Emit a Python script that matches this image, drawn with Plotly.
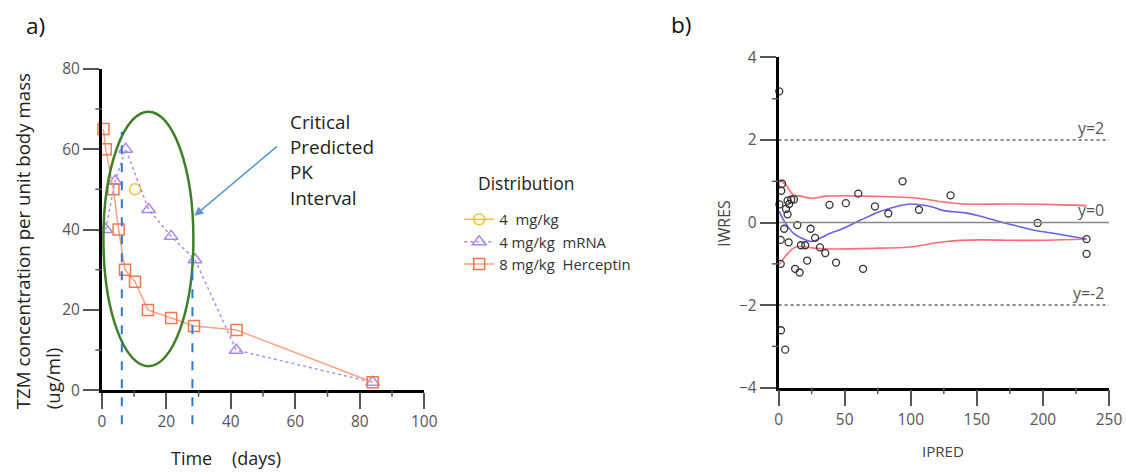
import plotly.graph_objects as go

W, H = 1126, 474

# ---------------- Panel a data ----------------
her_x = [0.5, 1.2, 3.6, 5.2, 7.2, 10.3, 14.3, 21.5, 28.6, 41.8, 84]
her_y = [65, 60, 50, 40, 30, 27, 20, 18, 16, 15, 2]
mrna_x = [1.2, 4.1, 7.4, 14.5, 21.5, 28.9, 41.7, 84]
mrna_y = [40, 52, 60, 45, 38.3, 32.5, 10, 2]
d4_x = [10.3]
d4_y = [50]
legend_names = ["4\u00a0 mg/kg", "4 mg/kg\u00a0 mRNA", "8 mg/kg\u00a0 Herceptin"]
interval_x = [6.2, 28.1]
interval_top = [64.3, 32.5]
ellipse_x = [0.5, 28.4]
ellipse_y = [6, 69.3]
arrow_from = (54.8, 61)
arrow_to = (28.7, 43.4)
callout_lines = ["Critical", "Predicted", "PK", "Interval"]

# ---------------- Panel b data ----------------
ipred = [0.5, 2.6, 2.0, 0.6, 1.6, 1.6, 1.8, 5.0, 4.2, 5.6, 6.8, 8.0, 6.8, 9.6, 11.6, 7.6,
         14.2, 12.5, 15.9, 16.9, 20.1, 21.6, 24.2, 27.6, 31.3, 35.3, 38.5, 43.5, 50.9,
         60.3, 63.9, 72.9, 83.0, 93.8, 106.2, 130.1, 196, 233, 233]
iwres = [3.18, 0.94, 0.77, 0.44, -0.42, -1.0, -2.61, -3.08, -0.15, 0.33, 0.53, 0.45, 0.20,
         0.56, 0.56, -0.48, -0.06, -1.12, -1.21, -0.55, -0.55, -0.92, -0.15, -0.37, -0.60,
         -0.74, 0.43, -0.97, 0.47, 0.70, -1.12, 0.39, 0.22, 1.0, 0.31, 0.66, -0.01, -0.40, -0.76]
upper_x = [0.5, 5, 11.3, 16.4, 25.2, 36.5, 51.6, 76.8, 102, 127, 140, 177.6, 202.8, 233]
upper_y = [1.03, 0.93, 0.67, 0.64, 0.59, 0.64, 0.65, 0.63, 0.60, 0.49, 0.45, 0.45, 0.44, 0.41]
lower_x = [0.5, 5, 11.3, 16.4, 26.4, 39, 76.8, 97, 127, 152, 177.6, 203, 233]
lower_y = [-1.02, -0.82, -0.62, -0.58, -0.62, -0.64, -0.62, -0.60, -0.46, -0.42, -0.43, -0.43, -0.40]
smooth_x = [0.5, 3.8, 11.3, 17.6, 25.2, 31.5, 39, 49, 62, 76.8, 89.4, 99.5, 107, 117, 124.7,
            140, 152, 167.5, 177.6, 192.7, 207.8, 233]
smooth_y = [0.27, 0.06, -0.26, -0.38, -0.46, -0.38, -0.26, -0.14, 0.06, 0.27, 0.39, 0.45, 0.43,
            0.37, 0.29, 0.24, 0.16, 0.02, -0.06, -0.18, -0.26, -0.40]
ref_levels = [2, 0, -2]
ref_labels = ["y=2", "y=0", "y=-2"]
a_minor_x = [10, 30, 50, 70, 90]
a_minor_y = [10, 30, 50, 70]
b_minor_x = [25, 75, 125, 175, 225]
b_minor_y = [-3, -1, 1, 3]

# ---------------- geometry ----------------
# target positions (q, picture pixels) -> page, compensating for how the
# capture places the page (small offset and scale)
SX, OX = 1111 / 1126, 2.0
SY, OY = 455 / 474, 10.0

def px(q):
    return ((q - OX) / SX) / W

def py(q):
    return 1 - ((q - OY) / SY) / H

def fs(size):
    return size / ((SX + SY) / 2)

A_L, A_R, A_T, A_B = 100, 423, 68, 391
B_L, B_R, B_T, B_B = 778, 1109, 56.7, 388.3
A_XR, A_YR = [0, 100], [0, 80]
B_XR, B_YR = [0, 250], [-4, 4]

def map_x(v, L, R, rng):
    return L + (v - rng[0]) / (rng[1] - rng[0]) * (R - L)

def map_y(v, T, B, rng):
    return B - (v - rng[0]) / (rng[1] - rng[0]) * (B - T)

def a_x(v):
    return px(map_x(v, A_L, A_R, A_XR))

def a_y(v):
    return py(map_y(v, A_T, A_B, A_YR))

FONT = "Open Sans"
TICKC = "#555"

fig = go.Figure()

fig.add_trace(go.Scatter(x=d4_x, y=d4_y, mode="lines+markers", name=legend_names[0],
                         line=dict(color="#f2c43c", width=1.5),
                         marker=dict(symbol="circle-open", size=11, color="#f2c43c", line=dict(width=1.5)),
                         cliponaxis=False, xaxis="x", yaxis="y"))
fig.add_trace(go.Scatter(x=mrna_x, y=mrna_y, mode="lines+markers", name=legend_names[1],
                         line=dict(color="#b08ef0", width=1.5, dash="dot"),
                         marker=dict(symbol="triangle-up-open", size=12, color="#a987ee", line=dict(width=1.5)),
                         cliponaxis=False, xaxis="x", yaxis="y"))
fig.add_trace(go.Scatter(x=her_x, y=her_y, mode="lines+markers", name=legend_names[2],
                         line=dict(color="#f6a283", width=1.5),
                         marker=dict(symbol="square-open", size=11, color="#f3784e", line=dict(width=1.5)),
                         cliponaxis=False, xaxis="x", yaxis="y"))

fig.add_trace(go.Scatter(x=upper_x, y=upper_y, mode="lines", line=dict(color="#ff6b78", width=1.6, shape="spline"),
                         showlegend=False, xaxis="x2", yaxis="y2"))
fig.add_trace(go.Scatter(x=lower_x, y=lower_y, mode="lines", line=dict(color="#ff6b78", width=1.6, shape="spline"),
                         showlegend=False, xaxis="x2", yaxis="y2"))
fig.add_trace(go.Scatter(x=smooth_x, y=smooth_y, mode="lines", line=dict(color="#6a62e6", width=1.6, shape="spline"),
                         showlegend=False, xaxis="x2", yaxis="y2"))
fig.add_trace(go.Scatter(x=ipred, y=iwres, mode="markers",
                         marker=dict(symbol="circle-open", size=7, color="#333", line=dict(width=1.3)),
                         cliponaxis=False, showlegend=False, xaxis="x2", yaxis="y2"))

shapes = []
shapes.append(dict(type="circle", xref="x", yref="y", x0=ellipse_x[0], x1=ellipse_x[1],
                   y0=ellipse_y[0], y1=ellipse_y[1], line=dict(color="#3f7f2b", width=2.5)))
for xv, top in zip(interval_x, interval_top):
    shapes.append(dict(type="line", xref="paper", yref="paper", x0=a_x(xv), x1=a_x(xv),
                       y0=py(425), y1=a_y(top),
                       line=dict(color="#2f78cf", width=2, dash="dash")))
for lv in ref_levels:
    shapes.append(dict(type="line", xref="x2", yref="y2", x0=0, x1=250, y0=lv, y1=lv,
                       line=dict(color="#888888" if lv == 0 else "#666666", width=1.5,
                                 dash="solid" if lv == 0 else "dot")))

# minor ticks (computed from the axis mapping)
MIN_LEN = 6.5
for (L, R, T, B, xr, yr, mx, my) in [(A_L, A_R, A_T, A_B, A_XR, A_YR, a_minor_x, a_minor_y),
                                     (B_L, B_R, B_T, B_B, B_XR, B_YR, b_minor_x, b_minor_y)]:
    for v in mx:
        q = map_x(v, L, R, xr)
        shapes.append(dict(type="line", xref="paper", yref="paper", x0=px(q), x1=px(q),
                           y0=py(B), y1=py(B + MIN_LEN), line=dict(color="#555555", width=1.5)))
    for v in my:
        q = map_y(v, T, B, yr)
        shapes.append(dict(type="line", xref="paper", yref="paper", x0=px(L), x1=px(L - MIN_LEN),
                           y0=py(q), y1=py(q), line=dict(color="#555555", width=1.5)))

annotations = []
def note(text, qx, qy, size, color="#222222", xanchor="center", yanchor="middle", angle=0):
    annotations.append(dict(text=text, x=px(qx), y=py(qy), xref="paper", yref="paper",
                            xanchor=xanchor, yanchor=yanchor, textangle=angle, showarrow=False,
                            font=dict(size=fs(size), color=color, family=FONT)))

note("a)", 22, 25, 22, "#111111", xanchor="left")
note("b)", 668, 24, 22, "#111111", xanchor="left")
note("TZM concentration per unit body mass", 20, 412, 18.2, yanchor="bottom", angle=-90)
note("(ug/ml)", 50, 412, 18.2, yanchor="bottom", angle=-90)
note("Time", 190, 459, 17.5)
note("(days)", 255, 459, 17.5)
for i, t in enumerate(callout_lines):
    note(t, 287, 121 + 25.5 * i, 18.4, xanchor="left")
note("Distribution", 475, 183, 17, xanchor="left")
note("IWRES", 723, 223, 15.5, "#444444", angle=-90)
note("IPRED", 943, 452, 14.7, "#444444")

annotations.append(dict(x=arrow_to[0], y=arrow_to[1], ax=arrow_from[0], ay=arrow_from[1],
                        xref="x", yref="y", axref="x", ayref="y", text="", showarrow=True,
                        arrowhead=2, arrowsize=1.2, arrowwidth=1.5, arrowcolor="#5b95cf"))
for lv, lab in zip(ref_levels, ref_labels):
    annotations.append(dict(text=lab, x=247.5, y=lv, xref="x2", yref="y2", xanchor="right", yanchor="middle",
                            yshift=12.5, showarrow=False, font=dict(size=fs(15.5), color="#555555", family=FONT)))

def axis(**kw):
    d = dict(showline=True, linecolor="black", linewidth=2.5, showgrid=False, zeroline=False,
             ticks="outside", tickcolor="#555555", tickwidth=1.5,
             tickfont=dict(size=fs(15), color=TICKC, family=FONT))
    d.update(kw)
    return d

XT_MAJ = 15 / SY
YT_MAJ = 16 / SX

fig.update_layout(
    width=W, height=H, margin=dict(l=0, r=0, t=0, b=0),
    paper_bgcolor="white", plot_bgcolor="white",
    font=dict(family=FONT),
    xaxis=axis(domain=[px(A_L), px(A_R)], range=A_XR, anchor="y", dtick=20, ticklen=XT_MAJ),
    yaxis=axis(domain=[py(A_B), py(A_T)], range=A_YR, anchor="x", dtick=20, ticklen=YT_MAJ),
    xaxis2=axis(domain=[px(B_L), px(B_R)], range=B_XR, anchor="y2", dtick=50, ticklen=XT_MAJ),
    yaxis2=axis(domain=[py(B_B), py(B_T)], range=B_YR, anchor="x2", dtick=2, ticklen=YT_MAJ),
    legend=dict(x=px(458), y=py(203), xanchor="left", yanchor="top",
                font=dict(size=fs(14.5), color="#333333", family=FONT), bgcolor="rgba(0,0,0,0)",
                tracegroupgap=0, itemwidth=30),
    shapes=shapes, annotations=annotations,
)

fig.write_html("out.html", config={"displayModeBar": False},
               post_script="document.body.style.margin='0';document.body.style.overflow='hidden';")
